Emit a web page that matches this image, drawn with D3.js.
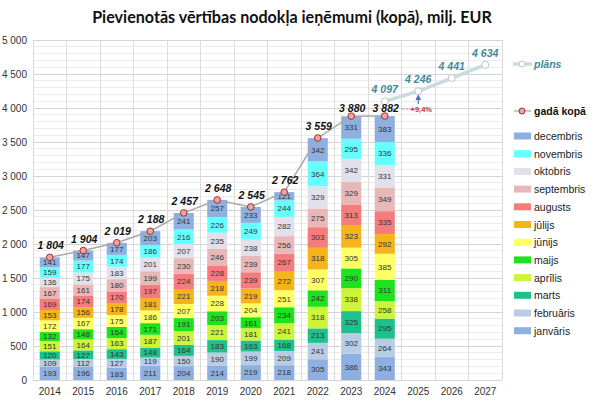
<!DOCTYPE html>
<html><head><meta charset="utf-8">
<script src="https://cdn.jsdelivr.net/npm/d3@7/dist/d3.min.js"></script>
<style>
html,body{margin:0;padding:0;background:#fff;}
svg{display:block;font-family:"Liberation Sans",Arial,sans-serif;}
</style></head>
<body><svg id="c" width="600" height="404"></svg>
<script>
const years = ["2014","2015","2016","2017","2018","2019","2020","2021","2022","2023","2024","2025","2026","2027"];
const barYears = ["2014","2015","2016","2017","2018","2019","2020","2021","2022","2023","2024"];
const months = ["janvāris","februāris","marts","aprīlis","maijs","jūnijs","jūlijs","augusts","septembris","oktobris","novembris","decembris"];
const janvaris   = [193,196,183,211,204,214,219,218,305,386,343];
const februaris  = [109,112,127,119,150,190,199,209,241,302,264];
const marts      = [120,127,143,148,164,183,163,168,213,325,295];
const aprilis    = [151,164,163,187,201,221,181,241,318,338,258];
const maijs      = [132,148,164,171,191,203,161,234,242,290,311];
const junijs     = [172,167,175,186,207,228,204,251,307,305,385];
const julijs     = [153,156,178,181,221,218,219,272,318,323,292];
const augusts    = [169,174,170,197,224,228,239,267,303,313,335];
const septembris = [167,161,180,199,230,246,239,256,275,329,349];
const oktobris   = [136,175,183,201,207,235,238,282,329,342,331];
const novembris  = [159,177,174,186,216,226,249,244,364,295,336];
const decembris  = [141,147,177,203,241,257,233,121,342,331,383];
const totals     = [1804,1904,2019,2188,2457,2648,2545,2762,3559,3880,3882];
const planYears  = ["2024","2025","2026","2027"];
const plan       = [4097,4246,4441,4634];
const yTicks     = [0,500,1000,1500,2000,2500,3000,3500,4000,4500,5000];
const growthLabel = "+9,4%";
const colors = ["#8eb0e0","#b8cce4","#20c08c","#ccf53a","#1ee21e","#ffff66","#f4b41a","#f47c7c","#e6b9b8","#e2e0ea","#66ffff","#8eb0e0"];

const series = [janvaris,februaris,marts,aprilis,maijs,junijs,julijs,augusts,septembris,oktobris,novembris,decembris];
const rows = barYears.map((yr,i)=>{const o={year:yr}; months.forEach((m,k)=>o[m]=series[k][i]); return o;});
const stack = d3.stack().keys(months)(rows);

const svg = d3.select("#c");
const L=33,R=502,T=40,B=380;
const x = d3.scaleBand().domain(years).range([L,R]).padding(0);
const bw = x.bandwidth();
const cx = d => x(d)+bw/2;
const y = d3.scaleLinear().domain([0,5000]).range([B,T]);
const fmt = d3.formatLocale({decimal:",",thousands:"\u00a0",grouping:[3],currency:["","€"]}).format(",d");

// grid
const g = svg.append("g");
g.selectAll("line.minor").data(d3.range(0,5001,100)).join("line")
 .attr("x1",L).attr("x2",R).attr("y1",d=>y(d)).attr("y2",d=>y(d))
 .attr("stroke",d=>d%500===0?"#d4d4d4":"#ececec").attr("stroke-width",1).attr("shape-rendering","crispEdges");
g.selectAll("line.v").data(d3.range(years.length+1)).join("line")
 .attr("x1",i=>L+i*bw).attr("x2",i=>L+i*bw).attr("y1",T).attr("y2",B)
 .attr("stroke","#dcdcdc").attr("shape-rendering","crispEdges");

// y axis
const ya = svg.append("g").attr("transform",`translate(${L},0)`)
 .call(d3.axisLeft(y).tickValues(yTicks).tickFormat(fmt).tickSize(0).tickPadding(6));
ya.select(".domain").remove();
ya.selectAll("text").attr("font-size",10).attr("fill","#333").attr("font-family","Liberation Sans, Arial");
// x axis
const xa = svg.append("g").attr("transform",`translate(0,${B})`)
 .call(d3.axisBottom(x).tickSize(0).tickPadding(8));
xa.select(".domain").remove();
xa.selectAll("text").attr("font-size",10).attr("fill","#333").attr("font-family","Liberation Sans, Arial");

// bars
const barW = bw*0.6;
const layers = svg.append("g").selectAll("g").data(stack).join("g").attr("fill",(d,i)=>colors[i]);
layers.selectAll("rect").data(d=>d).join("rect")
 .attr("x",d=>cx(d.data.year)-barW/2).attr("width",barW)
 .attr("y",d=>y(d[1])).attr("height",d=>y(d[0])-y(d[1]));
const lab = svg.append("g").attr("font-size",8).attr("fill","#333").attr("text-anchor","middle");
stack.forEach(layer=>{
  layer.forEach(d=>{
    lab.append("text").attr("x",cx(d.data.year)).attr("y",(y(d[0])+y(d[1]))/2+2.8)
      .text(d[1]-d[0]);
  });
});

// plan line
const planLine = d3.line().x((d,i)=>cx(planYears[i])).y(d=>y(d));
svg.append("path").attr("d",planLine(plan)).attr("fill","none").attr("stroke","#c9dcdc").attr("stroke-width",3.5);
svg.append("g").selectAll("circle").data(plan).join("circle")
 .attr("cx",(d,i)=>cx(planYears[i])).attr("cy",d=>y(d)).attr("r",3.5)
 .attr("fill","#fff").attr("stroke","#b4caca").attr("stroke-width",1);
svg.append("g").selectAll("text").data(plan).join("text")
 .attr("x",(d,i)=>cx(planYears[i])).attr("y",d=>y(d)-8)
 .attr("text-anchor","middle").attr("font-size",10.5).attr("font-weight","bold").attr("font-style","italic")
 .attr("fill","#3f8a9a").text(d=>fmt(d));

// totals line
const totLine = d3.line().x((d,i)=>cx(barYears[i])).y(d=>y(d));
svg.append("path").attr("d",totLine(totals)).attr("fill","none").attr("stroke","#a8a8a8").attr("stroke-width",1.5);
svg.append("g").selectAll("circle").data(totals).join("circle")
 .attr("cx",(d,i)=>cx(barYears[i])).attr("cy",d=>y(d)).attr("r",3.3)
 .attr("fill","#eba3a3").attr("stroke","#a0302c").attr("stroke-width",1);
svg.append("g").selectAll("text").data(totals).join("text")
 .attr("x",(d,i)=>cx(barYears[i])+1).attr("y",(d,i)=>y(d)-(i>=9?4:8))
 .attr("text-anchor","middle").attr("font-size",10.5).attr("font-weight","bold").attr("font-style","italic")
 .attr("fill","#111").text(d=>fmt(d));

// growth annotation
const t24 = totals[totals.length-1];
svg.append("line").attr("x1",cx("2024")+17).attr("x2",cx("2025")-7).attr("y1",y(t24)-7).attr("y2",y(t24)-7)
 .attr("stroke","#999").attr("stroke-dasharray","2,2");
svg.append("text").attr("x",cx("2025")+3).attr("y",y(t24)-4).attr("text-anchor","middle")
 .attr("font-size",7.5).attr("font-weight","bold").attr("fill","#e02828").text(growthLabel);
svg.append("defs").append("marker").attr("id","ah").attr("viewBox","0 0 10 10").attr("refX",5).attr("refY",5)
 .attr("markerWidth",5).attr("markerHeight",5).attr("orient","auto")
 .append("path").attr("d","M0,0L10,5L0,10z").attr("fill","#4a72c0");
svg.append("line").attr("x1",cx("2025")).attr("x2",cx("2025")).attr("y1",y(t24)-12).attr("y2",y(plan[1])+6)
 .attr("stroke","#4a72c0").attr("stroke-width",1.2).attr("marker-end","url(#ah)");

// title
const title = svg.append("text").attr("x",292).attr("y",23).attr("text-anchor","middle")
 .attr("font-family","Lato, sans-serif").attr("font-weight",700).attr("font-size",18).attr("fill","#111")
 .text("Pievienotās vērtības nodokļa ieņēmumi (kopā), milj. EUR");
const tw = title.node().getComputedTextLength();
title.attr("font-size",18*400/tw);

// legend
const lg = svg.append("g").attr("font-size",10.5).attr("fill","#222");
lg.append("line").attr("x1",513).attr("x2",532).attr("y1",64).attr("y2",64).attr("stroke","#c9dcdc").attr("stroke-width",3.5);
lg.append("circle").attr("cx",522).attr("cy",64).attr("r",3).attr("fill","#fff").attr("stroke","#b4caca");
lg.append("text").attr("x",534).attr("y",68).attr("font-weight","bold").attr("font-style","italic").attr("fill","#3f8a9a").text("plāns");
lg.append("line").attr("x1",514).attr("x2",531).attr("y1",111).attr("y2",111).attr("stroke","#a8a8a8").attr("stroke-width",1.2);
lg.append("circle").attr("cx",522).attr("cy",111).attr("r",3).attr("fill","#eba3a3").attr("stroke","#a0302c");
lg.append("text").attr("x",534).attr("y",115).attr("font-weight","bold").attr("fill","#111").text("gadā kopā");
const legMonths = months.slice().reverse();
legMonths.forEach((m,i)=>{
  const yy = 136 + i*17.7;
  lg.append("rect").attr("x",514).attr("y",yy-3.5).attr("width",17).attr("height",7).attr("fill",colors[months.indexOf(m)]);
  lg.append("text").attr("x",534).attr("y",yy+4).text(m);
});
</script></body></html>
